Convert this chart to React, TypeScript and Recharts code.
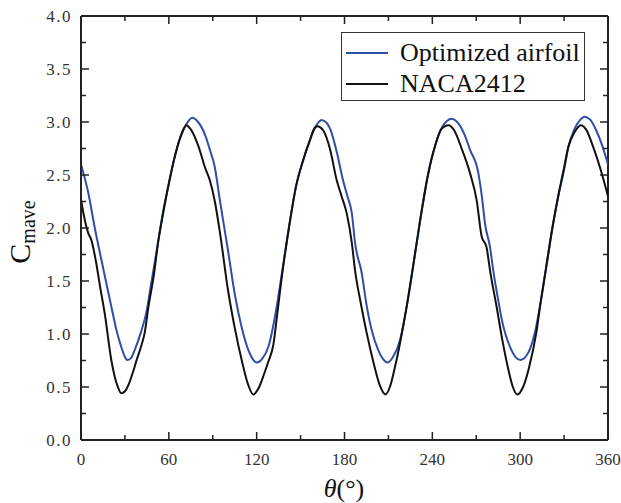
import { LineChart, Line, XAxis, YAxis, Legend, ReferenceLine } from "recharts";

// θ (deg) and C_mave
const optTheta = [
    0, 5, 9.3, 15, 20.7, 24, 27, 29.5, 31.6, 34, 37, 41, 44.6, 48, 52.6, 56, 60, 64, 68, 72, 76, 80, 85, 88,
    91.3, 95, 100.4, 105, 110, 114, 117, 120, 124, 128, 133, 137, 142, 147, 152, 156.4, 160, 164.4, 168, 170.6,
    175, 179, 182, 185, 187.2, 191.7, 195, 198.5, 203, 206.5, 209.5, 213, 217.9, 222.5, 227, 232, 237, 242, 247,
    250, 253.2, 257, 262, 265.7, 271.4, 274, 276, 279.4, 281.6, 285, 288.5, 293, 297, 300.3, 304, 307, 310, 314,
    318, 322, 326, 330, 333, 337, 341, 344, 348, 352, 356, 360,
];
const optCm = [
    2.6, 2.33, 2.01, 1.63, 1.26, 1.05, 0.9, 0.8, 0.755, 0.77, 0.86, 1.02, 1.2, 1.48, 1.86, 2.15, 2.42, 2.67, 2.86,
    2.98, 3.04, 3.0, 2.87, 2.74, 2.58, 2.25, 1.79, 1.38, 1.05, 0.86, 0.77, 0.73, 0.77, 0.88, 1.2, 1.55, 2.0, 2.4,
    2.65, 2.83, 2.95, 3.02, 2.99, 2.92, 2.7, 2.45, 2.3, 2.14, 1.86, 1.58, 1.28, 1.04, 0.85, 0.76, 0.73, 0.78, 0.94,
    1.26, 1.65, 2.1, 2.5, 2.78, 2.96, 3.01, 3.03, 3.0, 2.88, 2.74, 2.52, 2.28, 2.04, 1.82, 1.6, 1.32, 1.07, 0.88,
    0.78, 0.755, 0.79, 0.87, 1.01, 1.3, 1.65, 2.0, 2.3, 2.55, 2.77, 2.93, 3.02, 3.05, 3.02, 2.92, 2.78, 2.6,
];

const nacaTheta = [
    0, 3, 5, 7, 10, 13, 16.2, 20.7, 23, 25.5, 27.5, 30, 33, 35.5, 38, 41, 43.5, 46, 50, 52.6, 56, 60, 64, 69, 72,
    75, 80, 85, 88, 91.3, 95, 100.4, 105, 110, 114, 117.7, 121, 125, 128, 131.4, 134, 137, 142, 147, 152, 156.4,
    159, 161.4, 165.5, 170, 174.7, 178, 181.5, 185, 187.2, 191, 195, 200, 204, 208, 211, 214.5, 218, 222.5, 227,
    232, 237, 242, 246, 251, 255, 260, 265.7, 270.3, 273.7, 277, 279.4, 284, 288, 292, 295, 298, 302, 306, 311,
    314, 318, 322, 326, 330, 333, 337, 341.5, 345, 350, 355, 360,
];
const nacaCm = [
    2.27, 2.05, 1.95, 1.89, 1.7, 1.45, 1.195, 0.755, 0.6, 0.49, 0.44, 0.46, 0.54, 0.64, 0.755, 0.88, 1.01, 1.25,
    1.58, 1.86, 2.13, 2.42, 2.67, 2.9, 2.97, 2.93, 2.78, 2.56, 2.45, 2.26, 1.95, 1.415, 1.06, 0.74, 0.53, 0.43,
    0.48, 0.62, 0.74, 0.9, 1.18, 1.52, 2.0, 2.4, 2.65, 2.83, 2.93, 2.96, 2.92, 2.75, 2.45, 2.3, 2.14, 1.86, 1.6,
    1.3, 1.02, 0.72, 0.52, 0.43, 0.5, 0.69, 0.92, 1.26, 1.65, 2.1, 2.5, 2.78, 2.93, 2.97, 2.92, 2.75, 2.52, 2.26,
    1.92, 1.82, 1.6, 1.25, 0.93, 0.66, 0.5, 0.43, 0.5, 0.68, 1.01, 1.3, 1.65, 2.0, 2.3, 2.57, 2.77, 2.9, 2.97,
    2.93, 2.76, 2.55, 2.3,
];

const xTicks = [0, 30, 60, 90, 120, 150, 180, 210, 240, 270, 300, 330, 360];
const yTicks = [0, 0.25, 0.5, 0.75, 1, 1.25, 1.5, 1.75, 2, 2.25, 2.5, 2.75, 3, 3.25, 3.5, 3.75, 4];
const xDomain: [number, number] = [0, 360];
const yDomain: [number, number] = [0, 4];

// first series on bottom/left axes, second on top/right (same domains)
const series = [
    { name: "Optimized airfoil", color: "#2f4ea6", theta: optTheta, cm: optCm, xId: "b", yId: "l" },
    { name: "NACA2412", color: "#111111", theta: nacaTheta, cm: nacaCm, xId: "t", yId: "r" },
];

const FONT = "Liberation Serif";
const AXIS = "#222222";
const LABEL = "#333333";

const isMajorX = (v: number) => v % 60 === 0;
const isMajorY = (v: number) => Math.abs(v * 2 - Math.round(v * 2)) < 1e-6;

// inward tick marks as filled rects, labels only on major ticks
const BottomTick = (props: any) => {
    const x = Number(props.x);
    const y = Number(props.y);
    const v = props.payload.value;
    const len = isMajorX(v) ? 8 : 5;
    return (
        <g>
            <rect x={x - 0.75} y={y - len} width={1.5} height={len} fill={AXIS} />
            {isMajorX(v) && (
                <text x={x} y={y + 25} textAnchor="middle" fontFamily={FONT} fontSize={17} fill={LABEL}>
                    {v}
                </text>
            )}
        </g>
    );
};

const TopTick = (props: any) => {
    const x = Number(props.x);
    const y = Number(props.y);
    const len = isMajorX(props.payload.value) ? 8 : 5;
    return <rect x={x - 0.75} y={y} width={1.5} height={len} fill={AXIS} />;
};

const LeftTick = (props: any) => {
    const x = Number(props.x);
    const y = Number(props.y);
    const v = props.payload.value;
    const len = isMajorY(v) ? 8 : 5;
    return (
        <g>
            <rect x={x} y={y - 0.75} width={len} height={1.5} fill={AXIS} />
            {isMajorY(v) && (
                <text x={x - 9} y={y + 6} textAnchor="end" fontFamily={FONT} fontSize={17} fill={LABEL} letterSpacing={1.5}>
                    {v.toFixed(1)}
                </text>
            )}
        </g>
    );
};

const RightTick = (props: any) => {
    const x = Number(props.x);
    const y = Number(props.y);
    const len = isMajorY(props.payload.value) ? 8 : 5;
    return <rect x={x - len} y={y - 0.75} width={len} height={1.5} fill={AXIS} />;
};

const LegendBox = () => (
    <div
        style={{
            width: 242,
            height: 67,
            border: "1px solid #333333",
            background: "#ffffff",
            fontFamily: FONT,
            fontSize: 26,
            color: "#111111",
        }}
    >
        {series.map((s, i) => (
            <div key={s.name} style={{ display: "flex", alignItems: "center", height: 31, marginTop: i === 0 ? 4 : 0 }}>
                <div style={{ width: 42, height: 2, background: s.color, marginLeft: 4, marginRight: 12 }} />
                <span style={{ lineHeight: "31px", whiteSpace: "nowrap" }}>{s.name}</span>
            </div>
        ))}
    </div>
);

export default function App() {
    return (
        <div style={{ position: "absolute", left: 0, top: 0, background: "#ffffff" }}>
            <LineChart width={621} height={503} margin={{ top: 15, right: 12, left: 0, bottom: 0 }}>
                <XAxis
                    xAxisId="b"
                    type="number"
                    dataKey="theta"
                    domain={xDomain}
                    ticks={xTicks}
                    interval={0}
                    allowDataOverflow
                    height={63}
                    tickSize={0}
                    tickMargin={0}
                    tick={BottomTick}
                    axisLine={{ stroke: AXIS, strokeWidth: 2 }}
                    tickLine={false}
                    label={() => (
                        <text x={344} y={497} textAnchor="middle" fontFamily={FONT} fontSize={26} fill="#111111">
                            <tspan fontStyle="italic">θ</tspan>
                            <tspan>(°)</tspan>
                        </text>
                    )}
                />
                <XAxis
                    xAxisId="t"
                    orientation="top"
                    type="number"
                    dataKey="theta"
                    domain={xDomain}
                    ticks={xTicks}
                    interval={0}
                    allowDataOverflow
                    height={1}
                    tickSize={0}
                    tickMargin={0}
                    tick={TopTick}
                    axisLine={false}
                    tickLine={false}
                />
                <YAxis
                    yAxisId="l"
                    type="number"
                    domain={yDomain}
                    ticks={yTicks}
                    interval={0}
                    allowDataOverflow
                    width={81}
                    tickSize={0}
                    tickMargin={0}
                    tick={LeftTick}
                    axisLine={{ stroke: AXIS, strokeWidth: 2 }}
                    tickLine={false}
                    label={() => (
                        <text
                            x={30}
                            y={232}
                            transform="rotate(-90 30 232)"
                            textAnchor="middle"
                            fontFamily={FONT}
                            fill="#111111"
                        >
                            <tspan fontSize={30}>C</tspan>
                            <tspan fontSize={20} dy={5}>mave</tspan>
                        </text>
                    )}
                />
                <YAxis
                    yAxisId="r"
                    orientation="right"
                    type="number"
                    domain={yDomain}
                    ticks={yTicks}
                    interval={0}
                    allowDataOverflow
                    width={1}
                    tickSize={0}
                    tickMargin={0}
                    tick={RightTick}
                    axisLine={false}
                    tickLine={false}
                />
                {/* plot frame */}
                <ReferenceLine xAxisId="b" yAxisId="l" x={xDomain[0]} stroke={AXIS} strokeWidth={2} ifOverflow="visible" />
                <ReferenceLine xAxisId="b" yAxisId="l" x={xDomain[1]} stroke={AXIS} strokeWidth={2} ifOverflow="visible" />
                <ReferenceLine xAxisId="b" yAxisId="l" y={yDomain[0]} stroke={AXIS} strokeWidth={2} ifOverflow="visible" />
                <ReferenceLine xAxisId="b" yAxisId="l" y={yDomain[1]} stroke={AXIS} strokeWidth={2} ifOverflow="visible" />
                {series.map((s) => (
                    <Line
                        key={s.name}
                        xAxisId={s.xId}
                        yAxisId={s.yId}
                        data={s.theta.map((t, i) => ({ theta: t, cm: s.cm[i] }))}
                        dataKey="cm"
                        name={s.name}
                        type="monotone"
                        stroke={s.color}
                        strokeWidth={2}
                        dot={false}
                        activeDot={false}
                        isAnimationActive={false}
                    />
                ))}
                <Legend
                    layout="vertical"
                    align="center"
                    verticalAlign="middle"
                    content={<LegendBox />}
                    wrapperStyle={{ left: 341, top: 32, width: 244 }}
                />
            </LineChart>
        </div>
    );
}
